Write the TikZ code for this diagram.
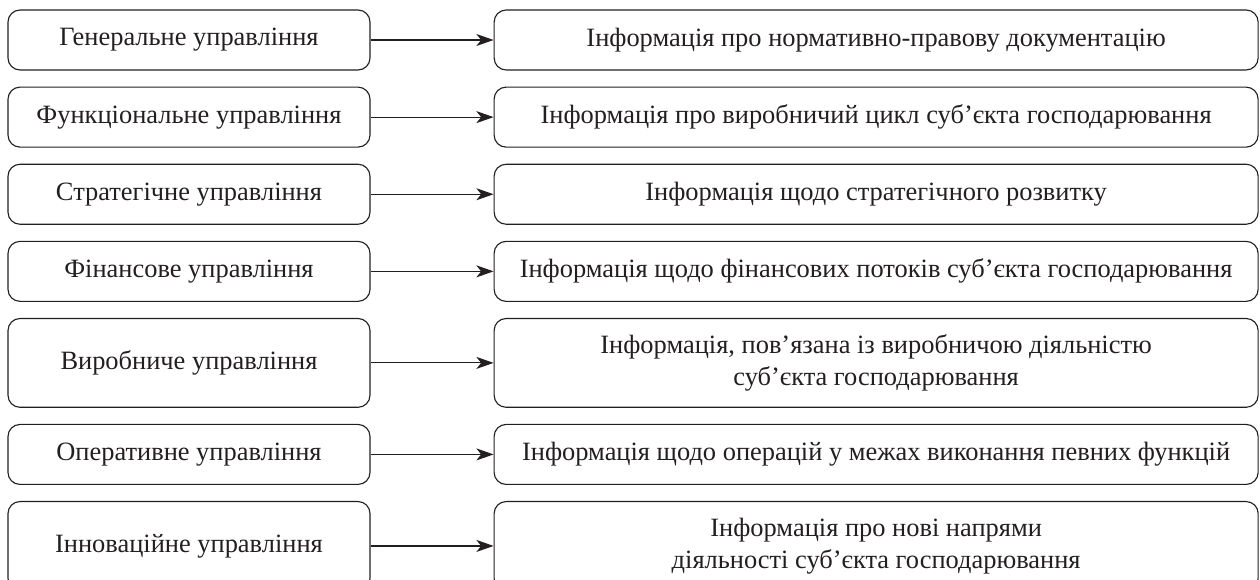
\documentclass[tikz,border=0pt]{standalone}
\usepackage{fontspec}
\setmainfont{Liberation Serif}
\usetikzlibrary{positioning,arrows.meta}
\definecolor{ink}{HTML}{231F20}
\tikzset{>={Stealth[length=4.3mm,width=3mm,inset=1.2mm]}}
\tikzset{
    upr/.style={draw=ink, text=ink, rounded corners=0.3cm, line width=0.8pt,
        minimum width=9.05cm, minimum height=1.5cm, align=center, inner sep=0pt,
        font=\fontsize{18.8}{22.5}\selectfont},
    inf/.style={upr, minimum width=19.1cm},
    tall/.style={minimum height=2.22cm}
}

\begin{document}
\begin{tikzpicture}

    \useasboundingbox (0,0) rectangle (31.5,-14.5);

    % left column
    \node[upr] (g1) at (4.725,-1.0) {Генеральне управління};
    \node[upr, below=0.4cm of g1] (g2) {Функціональне управління};
    \node[upr, below=0.4cm of g2] (g3) {Стратегічне управління};
    \node[upr, below=0.4cm of g3] (g4) {Фінансове управління};
    \node[upr, tall, below=0.4cm of g4] (g5) {Виробниче управління};
    \node[upr, below=0.4cm of g5] (g6) {Оперативне управління};
    \node[upr, tall, below=0.4cm of g6] (g7) {Інноваційне управління};

    % right column
    \node[inf, right=3.075cm of g1] (i1) {Інформація про нормативно-правову документацію};
    \node[inf, right=3.075cm of g2] (i2) {Інформація про виробничий цикл суб’єкта господарювання};
    \node[inf, right=3.075cm of g3] (i3) {Інформація щодо стратегічного розвитку};
    \node[inf, right=3.075cm of g4] (i4) {Інформація щодо фінансових потоків суб’єкта господарювання};
    \node[inf, tall, right=3.075cm of g5] (i5) {Інформація, пов’язана із виробничою діяльністю\\суб’єкта господарювання};
    \node[inf, right=3.075cm of g6] (i6) {Інформація щодо операцій у межах виконання певних функцій};
    \node[inf, tall, right=3.075cm of g7] (i7) {Інформація про нові напрями\\діяльності суб’єкта господарювання};

    \foreach \n in {1,...,7}
    {
        \draw[->, ink, line width=0.8pt] (g\n) -- (i\n);
    }

\end{tikzpicture}
\end{document}
